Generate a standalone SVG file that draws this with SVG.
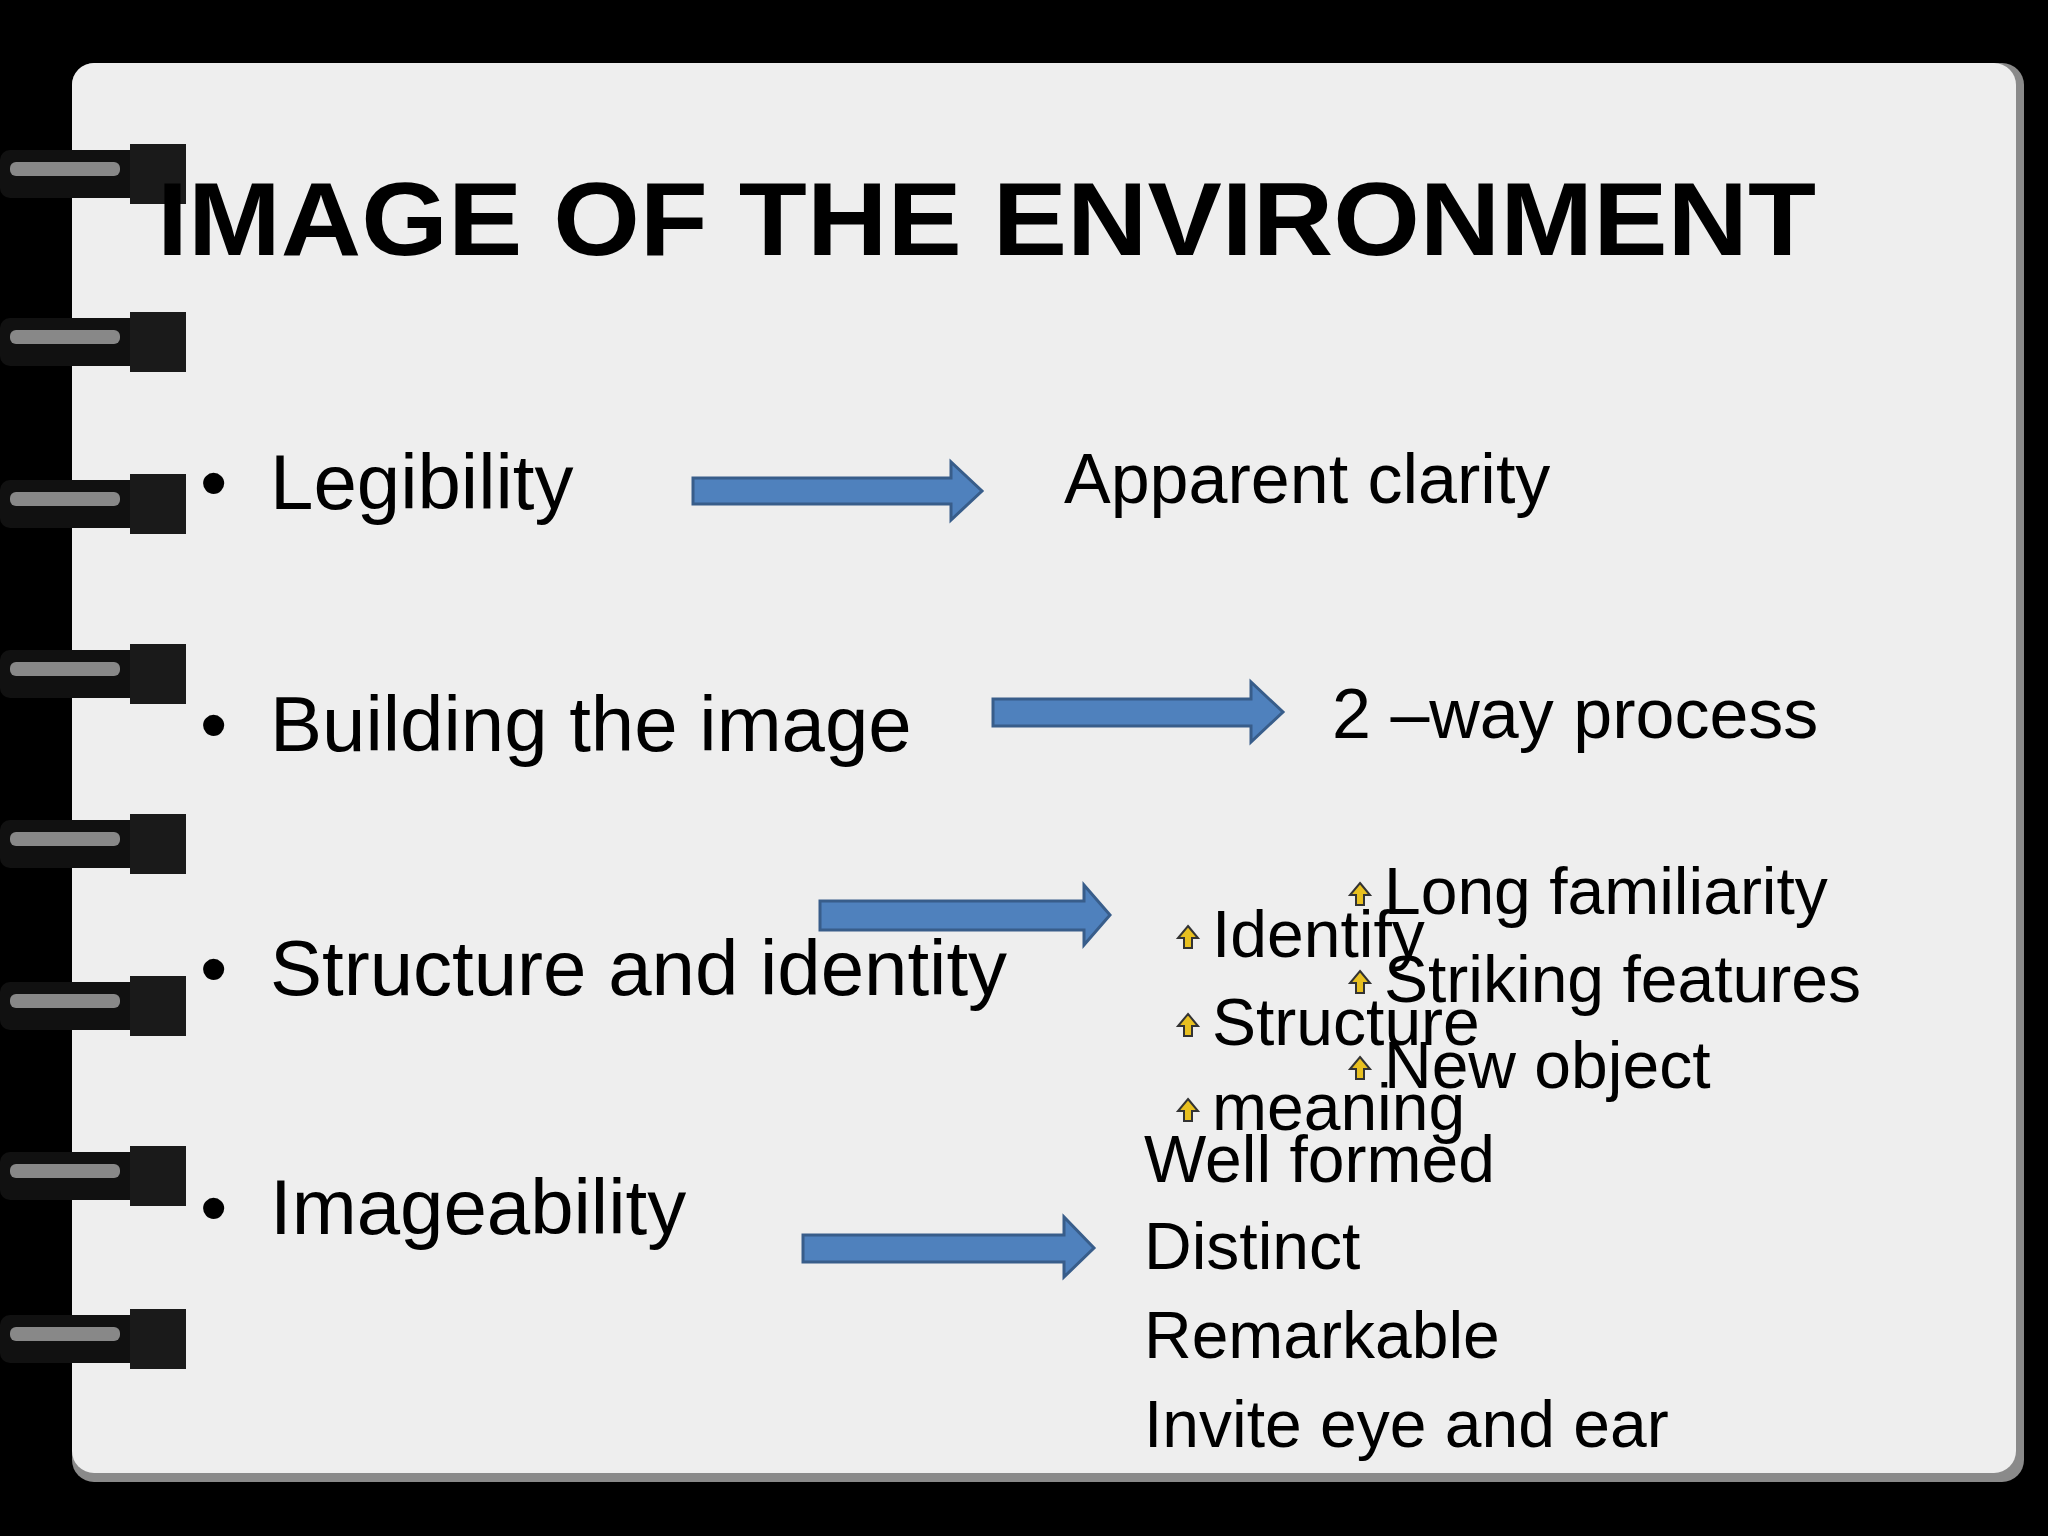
<svg xmlns="http://www.w3.org/2000/svg" width="2048" height="1536" viewBox="0 0 2048 1536">
<defs>
<style>
.t{font-family:"Liberation Sans",Arial,sans-serif;fill:#000}
.b{font-size:78px}
.s{font-size:66px}
.arr{fill:#4f81bd;stroke:#385d8a;stroke-width:3}
</style>
<g id="ico"><polygon points="0,-12 10,0 4,0 4,10 -4,10 -4,0 -10,0" fill="#e8c020" stroke="#333" stroke-width="2"/></g>
<g id="ring">
<rect x="0" y="0" width="180" height="48" rx="10" fill="#111"/>
<rect x="10" y="12" width="110" height="14" rx="6" fill="#888"/>
<rect x="130" y="-6" width="56" height="60" fill="#1a1a1a"/>
</g>
</defs>
<rect width="2048" height="1536" fill="#000"/>
<rect x="72" y="63" width="1952" height="1419" rx="22" fill="#8a8a8a"/>
<rect x="72" y="63" width="1944" height="1410" rx="22" fill="#eeeeee"/>
<g id="rings">
<use href="#ring" y="150"/><use href="#ring" y="318"/><use href="#ring" y="480"/><use href="#ring" y="650"/>
<use href="#ring" y="820"/><use href="#ring" y="982"/><use href="#ring" y="1152"/><use href="#ring" y="1315"/>
</g>
<text id="title" class="t" x="157" y="255" font-size="104" font-weight="bold" textLength="1659" lengthAdjust="spacingAndGlyphs">IMAGE OF THE ENVIRONMENT</text>
<g id="left">
<text class="t b" x="200" y="509">•</text><text class="t b" x="270" y="509">Legibility</text>
<text class="t b" x="200" y="751">•</text><text class="t b" x="270" y="751">Building the image</text>
<text class="t b" x="200" y="995">•</text><text class="t b" x="270" y="995">Structure and identity</text>
<text class="t b" x="200" y="1234">•</text><text class="t b" x="270" y="1234">Imageability</text>
</g>
<g id="connectors">
<polygon class="arr" points="693,478 951,478 951,462 982,491 951,520 951,504 693,504"/>
<polygon class="arr" points="993,699 1251,699 1251,682 1283,712 1251,742 1251,726 993,726"/>
<polygon class="arr" points="820,901 1084,901 1084,885 1110,915 1084,945 1084,930 820,930"/>
<polygon class="arr" points="803,1235 1064,1235 1064,1217 1094,1248 1064,1277 1064,1262 803,1262"/>
</g>
<g id="right">
<text class="t" x="1064" y="503" font-size="70">Apparent clarity</text>
<text class="t" x="1332" y="738" font-size="70">2 –way process</text>
<use href="#ico" x="1188" y="938"/><text class="t s" x="1212" y="957">Identify</text>
<use href="#ico" x="1188" y="1026"/><text class="t s" x="1212" y="1045">Structure</text>
<use href="#ico" x="1188" y="1111"/><text class="t s" x="1212" y="1130">meaning</text>
<use href="#ico" x="1360" y="895"/><text class="t s" x="1384" y="914">Long familiarity</text>
<use href="#ico" x="1360" y="983"/><text class="t s" x="1384" y="1002">Striking features</text>
<use href="#ico" x="1360" y="1069"/><text class="t s" x="1384" y="1088">New object</text>
<text class="t s" x="1144" y="1182">Well formed</text>
<text class="t s" x="1144" y="1269">Distinct</text>
<text class="t s" x="1144" y="1358">Remarkable</text>
<text class="t s" x="1144" y="1447">Invite eye and ear</text>
</g>
</svg>
